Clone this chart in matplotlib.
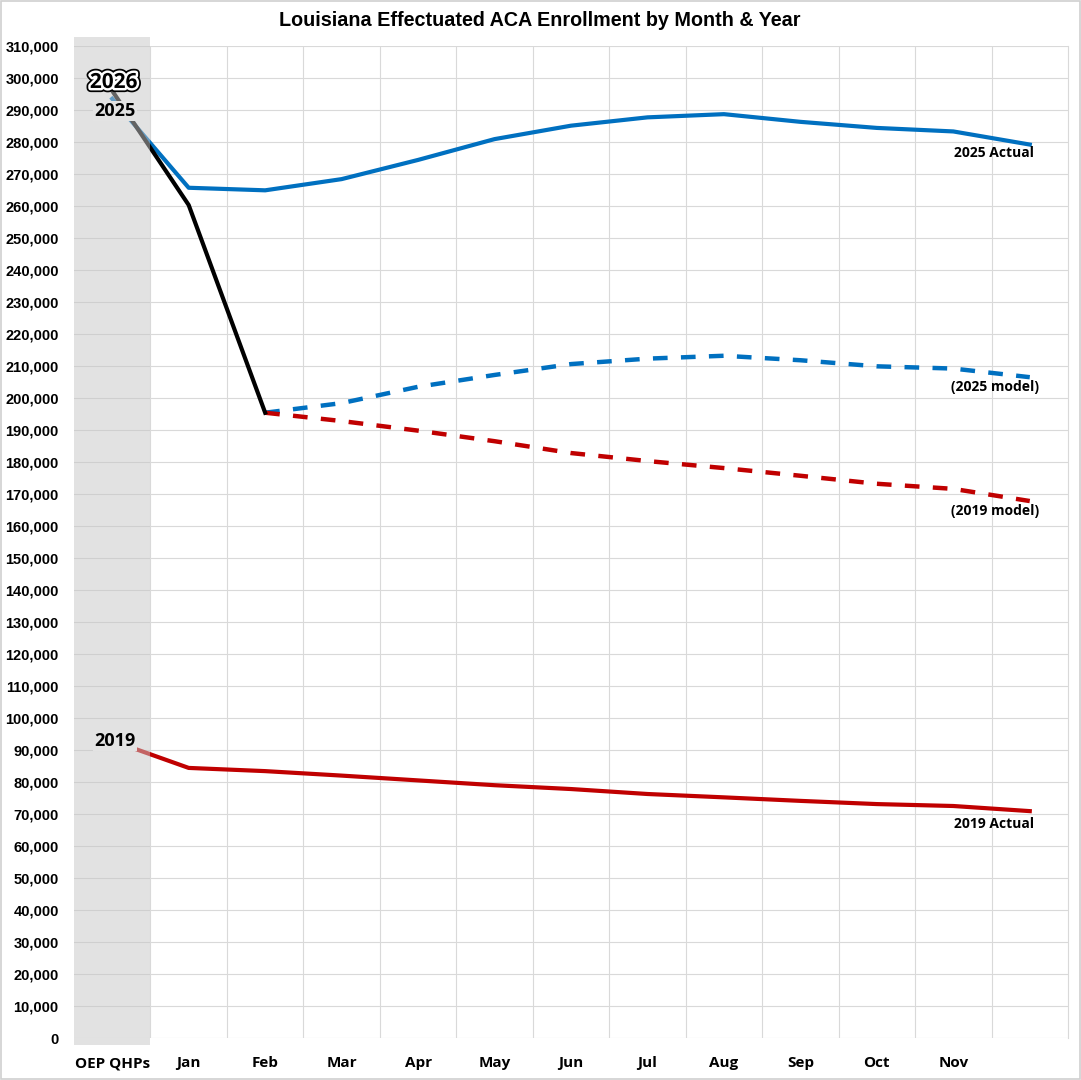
import numpy as np
import matplotlib
matplotlib.use("Agg")
import matplotlib.pyplot as plt
import matplotlib.patheffects as pe
from matplotlib.patches import Rectangle
from matplotlib.ticker import FuncFormatter, MultipleLocator

nan = np.nan

months = ["OEP QHPs", "Jan", "Feb", "Mar", "Apr", "May", "Jun",
          "Jul", "Aug", "Sep", "Oct", "Nov", ""]

actual_2025 = [293500, 265700, 264900, 268400, 274400, 280900, 285100,
               287700, 288700, 286300, 284400, 283300, 279200]
actual_2026 = [296000, 260300, 195400, nan, nan, nan, nan,
               nan, nan, nan, nan, nan, nan]
model_2025 = [nan, nan, 195400, 198400, 203500, 207200, 210600,
              212300, 213200, 211800, 209900, 209200, 206500]
model_2019 = [nan, nan, 195400, 192800, 189800, 186500, 182800,
              180300, 178100, 175700, 173200, 171600, 167800]
actual_2019 = [92900, 84400, 83400, 82000, 80500, 79000, 77800,
               76250, 75200, 74100, 73100, 72500, 70900]

arial = ["Liberation Sans", "DejaVu Sans"]
label_font = ["Open Sans", "DejaVu Sans"]

blue = "#0070C0"
red = "#C00000"

fig = plt.figure(figsize=(10.81, 10.80), dpi=100)
ax = fig.add_axes([74 / 1081, 1 - 1038 / 1080, 994 / 1081, 992 / 1080])

x = np.arange(len(months))

ax.plot(x, actual_2025, color=blue, lw=3.0, zorder=2, solid_joinstyle="round")
ax.plot(x, model_2025, color=blue, lw=3.2, ls=(0, (3.3, 3.0)), zorder=2)
ax.plot(x, model_2019, color=red, lw=3.2, ls=(0, (3.3, 3.0)), zorder=2)
ax.plot(x, actual_2026, color="black", lw=3.0, zorder=2.5, solid_joinstyle="round")
ax.plot(x, actual_2019, color=red, lw=3.0, zorder=2, solid_joinstyle="round")

# gray band over the open enrollment column (drawn on top so lines fade)
band = Rectangle((-0.5, -2200), 1.0, 315000, transform=ax.transData,
                 facecolor=(0.78, 0.78, 0.78), alpha=0.5, edgecolor="none",
                 zorder=3, clip_on=False)
ax.add_patch(band)

ax.set_xlim(-0.5, 12.5)
ax.set_ylim(0, 310000)
ax.yaxis.set_major_locator(MultipleLocator(10000))
ax.yaxis.set_major_formatter(FuncFormatter(lambda v, p: f"{int(v):,}"))
ax.set_xticks(x)
ax.set_xticklabels(months)
ax.set_xticks(np.arange(0.5, 12.5, 1.0), minor=True)

ax.grid(axis="y", which="major", color="#d9d9d9", lw=0.8, zorder=0)
ax.grid(axis="x", which="minor", color="#d9d9d9", lw=0.8, zorder=0)
ax.tick_params(axis="both", which="both", length=0)
ax.tick_params(axis="x", pad=13)
ax.tick_params(axis="y", pad=11)
for s in ["left", "bottom", "top"]:
    ax.spines[s].set_visible(False)
ax.spines["right"].set_color("#d9d9d9")
ax.spines["right"].set_linewidth(0.8)

for t in ax.get_yticklabels():
    t.set_fontfamily(arial)
    t.set_fontweight("bold")
    t.set_fontsize(10.5)
for t in ax.get_xticklabels():
    t.set_fontfamily(label_font)
    t.set_fontweight("bold")
    t.set_fontsize(11)

fig.text(540 / 1081, 1 - 20 / 1080, "Louisiana Effectuated ACA Enrollment by Month & Year",
         ha="center", va="center", fontsize=14.2, fontweight="bold", family=arial)

kw = dict(textcoords="offset points", fontweight="bold", family=label_font,
          fontsize=10, zorder=5)
ax.annotate("2025 Actual", (12, actual_2025[12]), xytext=(3, -6),
            ha="right", va="center", **kw)
ax.annotate("(2025 model)", (12, model_2025[12]), xytext=(7, -7),
            ha="right", va="center", **kw)
ax.annotate("(2019 model)", (12, model_2019[12]), xytext=(7, -7),
            ha="right", va="center", **kw)
ax.annotate("2019 Actual", (12, actual_2019[12]), xytext=(3, -9),
            ha="right", va="center", **kw)

band_face = "#e3e3e3"
ax.annotate("2025", (0, actual_2025[0]), xytext=(2, -9), textcoords="offset points",
            ha="center", va="center", fontsize=13, fontweight="bold", family=label_font,
            zorder=5, bbox=dict(boxstyle="square,pad=0.05", fc=band_face, ec="none"))
ax.annotate("2019", (0, actual_2019[0]), xytext=(2, 0), textcoords="offset points",
            ha="center", va="center", fontsize=13, fontweight="bold", family=label_font,
            zorder=5, bbox=dict(boxstyle="square,pad=0.05", fc=band_face, ec="none"))
t26 = ax.annotate("2026", (0, actual_2026[0]), xytext=(1, 6), textcoords="offset points",
                  ha="center", va="center", fontsize=15, fontweight="bold",
                  family=label_font, zorder=6)
t26.set_path_effects([pe.Stroke(linewidth=6, foreground="black"),
                      pe.Stroke(linewidth=3.5, foreground="white"),
                      pe.Normal()])

fig.patches.append(Rectangle((0.001, 0.001), 0.998, 0.998, transform=fig.transFigure,
                             fill=False, edgecolor="#d0d0d0", lw=1.2))

fig.savefig("out.png", dpi=100, facecolor="white")
